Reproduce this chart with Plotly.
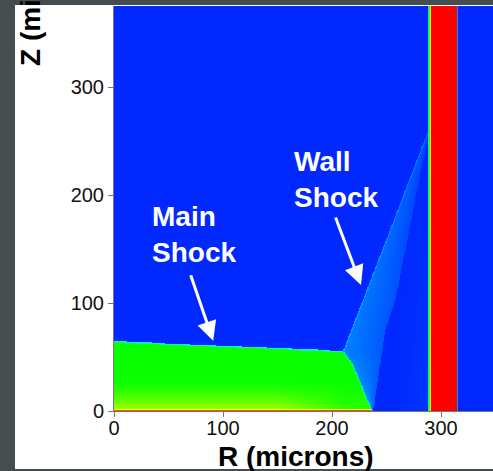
import numpy as np
import plotly.graph_objects as go

# ---- flow geometry (R, Z in microns) ----
main_shock_R = [0, 210]          # top of the shocked (green) layer
main_shock_Z = [65, 56]
rear_front_Z = [0, 22, 44, 56]   # curved outer edge of the shocked layer
rear_front_R = [237, 228, 219, 210]
wall_lead_Z = [56, 265]          # leading edge of the wall shock fan
wall_lead_R = [210, 290]
wall_trail_Z = [0, 75, 103, 265] # trailing edge of the wall shock fan
wall_trail_R = [237.5, 248.6, 257.8, 290]
wall_R = [290.5, 314.5]          # dense wall material

# ---- levels on the colour scale ----
lvl_gas = 0.03
lvl_fan_lead = 0.24
lvl_fan_trail = 0.16
lvl_fan_edge = 0.32
lvl_shocked = 0.5
lvl_front_edge = 0.40
lvl_base = 0.92
lvl_wall = 1.0

# ---- axes ----
x_ticks = [0, 100, 200, 300]
y_ticks = [0, 100, 200, 300]
x_range = [0, 347.7]
y_range = [0, 375]

R = np.arange(0, 348.01, 0.5)
Z = np.arange(0, 375.51, 0.5)
RR, ZZ = np.meshgrid(R, Z)

field = np.full(RR.shape, lvl_gas)

# slight brightening of the gas just inside the wall
near = np.clip((RR - 255) / 35, 0, 1) * np.clip((230 - ZZ) / 230, 0, 1)
field += 0.05 * near * (RR < wall_R[0])

# wall shock fan
Rl = np.where(ZZ >= wall_lead_Z[0],
              np.interp(ZZ, wall_lead_Z, wall_lead_R),
              np.interp(ZZ, rear_front_Z, rear_front_R))
Rr = np.interp(ZZ, wall_trail_Z, wall_trail_R)
in_fan = (RR >= Rl) & (RR <= Rr) & (ZZ < wall_lead_Z[1])
t = np.clip((RR - Rl) / np.maximum(Rr - Rl, 1e-6), 0, 1)
fade = 1 - 0.5 * np.clip(ZZ / wall_lead_Z[1], 0, 1)
fan_val = lvl_gas + (lvl_fan_lead - lvl_gas - (lvl_fan_lead - lvl_fan_trail) * t) * fade
field = np.where(in_fan, fan_val, field)
lead_edge = in_fan & (RR - Rl < 1.2) & (ZZ >= wall_lead_Z[0])
field = np.where(lead_edge, lvl_gas + (lvl_fan_edge - lvl_gas) * fade, field)

# shocked layer behind the main shock
Zs = np.interp(np.minimum(RR, main_shock_R[1]), main_shock_R, main_shock_Z)
Rb = np.interp(ZZ, rear_front_Z, rear_front_R)
shocked = (ZZ < Zs) & (RR < Rb)
warm = np.clip(1 - ZZ / 30, 0, 1) ** 1.6 * np.clip(1 - (RR - 150) / 80, 0.2, 1)
g_val = lvl_shocked + 0.17 * warm
g_val = np.where((Zs - ZZ < 1.2) & (RR < main_shock_R[1]), lvl_front_edge, g_val)
g_val = np.where(Rb - RR < 1.5, lvl_front_edge + 0.03, g_val)
g_val = np.where(ZZ < 2.5, 0.74, g_val)
g_val = np.where(ZZ < 1.0, lvl_base, g_val)
field = np.where(shocked, g_val, field)

# wall with thin mixed edges
field = np.where((RR >= wall_R[0]) & (RR <= wall_R[1]), lvl_wall, field)
left_mix = (RR >= wall_R[0] - 2.5) & (RR < wall_R[0])
field = np.where(left_mix, 0.3 + 0.6 * (RR - (wall_R[0] - 2.5)) / 2.5, field)
right_mix = (RR > wall_R[1]) & (RR <= wall_R[1] + 1)
field = np.where(right_mix, 0.25, field)

colorscale = [
    [0.0, "rgb(0,30,255)"],
    [0.10, "rgb(0,62,255)"],
    [0.25, "rgb(0,150,255)"],
    [0.375, "rgb(0,240,255)"],
    [0.5, "rgb(10,255,0)"],
    [0.75, "rgb(255,255,0)"],
    [0.875, "rgb(255,120,0)"],
    [1.0, "rgb(255,0,0)"],
]

fig = go.Figure(go.Heatmap(
    x=R, y=Z, z=field.astype(np.float32),
    colorscale=colorscale, zmin=0, zmax=1,
    showscale=False, zsmooth="best", hoverinfo="skip",
))

W, H = 493, 471
ml, mr, mt, mb = 114, 0, 6, 60
pw, ph = W - ml - mr, H - mt - mb

def px_x(x):
    return (x - ml) / pw

def px_y(y):
    return (H - mb - y) / ph

tick_font = dict(family="Liberation Sans, Arial, sans-serif", size=20, color="#111")
axis_common = dict(
    showgrid=False, zeroline=False, showline=True, linecolor="#777", linewidth=1,
    ticks="outside", ticklen=5, tickwidth=1, tickcolor="#777", tickfont=tick_font,
)

fig.update_layout(
    width=W, height=H,
    margin=dict(l=ml, r=mr, t=mt, b=mb),
    paper_bgcolor="#444e50",
    plot_bgcolor="white",
    xaxis=dict(range=x_range, tickvals=x_ticks, ticklabelstandoff=-6, **axis_common),
    yaxis=dict(range=y_range, tickvals=y_ticks, **axis_common),
    showlegend=False,
)

# white panel behind the chart
fig.add_shape(type="rect", xref="paper", yref="paper",
              x0=px_x(15), x1=1.0, y0=px_y(469), y1=px_y(5),
              fillcolor="white", line_width=0, layer="below")

title_font = dict(family="Liberation Sans, Arial, sans-serif", size=28, color="black", weight="bold")
label_font = dict(family="Liberation Sans, Arial, sans-serif", size=28, color="white", weight="bold")

fig.add_annotation(text="R (microns)", xref="paper", yref="paper",
                   x=px_x(296), y=px_y(456), xanchor="center", yanchor="middle",
                   showarrow=False, font=title_font)
fig.add_annotation(text="Z (microns)", xref="paper", yref="paper", textangle=-90,
                   x=px_x(30), y=px_y(-10), xanchor="center", yanchor="middle",
                   showarrow=False, font=title_font)

fig.add_annotation(text="Main<br>Shock", xref="x", yref="y", x=73.3, y=163,
                   align="left", showarrow=False, font=label_font)
fig.add_annotation(text="Wall<br>Shock", xref="x", yref="y", x=204, y=214,
                   align="left", showarrow=False, font=label_font)

arrow_style = dict(showarrow=True, arrowcolor="white", arrowwidth=3, arrowhead=2,
                   arrowsize=1.3, standoff=0, text="", xref="x", yref="y",
                   axref="pixel", ayref="pixel")
fig.add_annotation(x=91, y=65, ax=-23, ay=-67, **arrow_style)
fig.add_annotation(x=226.6, y=116.7, ax=-26, ay=-69, **arrow_style)

fig.write_html("out.html")
